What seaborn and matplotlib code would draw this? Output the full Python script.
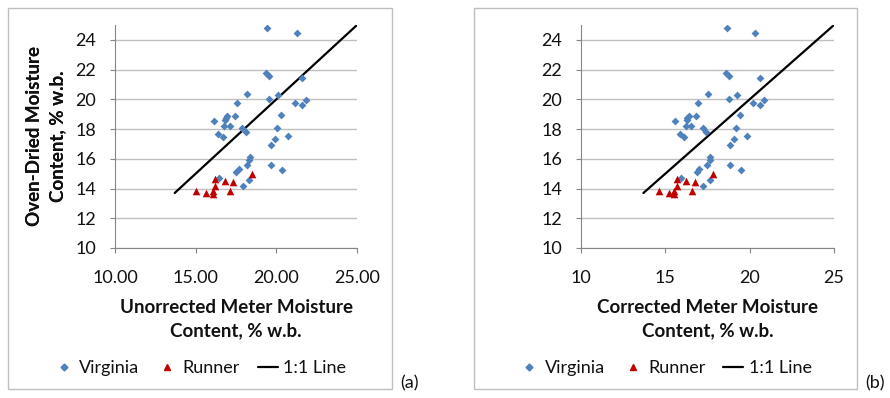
import matplotlib.pyplot as plt
import matplotlib.patches as mpatches
from matplotlib.lines import Line2D
import numpy as np
import pandas as pd
import seaborn as sns

# panel (a): uncorrected meter readings
va_meter_a = [19.44, 21.26, 19.36, 19.55, 21.61, 18.16, 19.55, 20.10, 17.54, 21.14,
              21.61, 21.86, 20.29, 16.12, 16.96, 16.80, 17.44, 16.78, 17.13, 17.89,
              18.10, 20.02, 16.38, 16.67, 20.74, 19.94, 19.69, 18.37, 18.33, 18.18,
              19.65, 17.67, 17.50, 20.37, 18.31, 16.47, 17.91, 16.88]
# panel (b): corrected meter readings
va_meter_b = [18.66, 20.32, 18.58, 18.76, 20.63, 17.51, 18.76, 19.27, 16.92, 20.18,
              20.63, 20.85, 19.41, 15.60, 16.41, 16.27, 16.84, 16.21, 16.55, 17.24,
              17.44, 19.17, 15.86, 16.11, 19.84, 19.09, 18.86, 17.65, 17.63, 17.48,
              18.84, 17.00, 16.86, 19.49, 17.63, 15.94, 17.26, 16.29]
va_oven = [24.83, 24.47, 21.75, 21.54, 21.41, 20.36, 20.03, 20.29, 19.78, 19.74,
           19.60, 19.96, 18.93, 18.55, 18.89, 18.62, 18.87, 18.18, 18.18, 18.06,
           17.79, 18.06, 17.64, 17.46, 17.53, 17.30, 16.95, 16.14, 15.90, 15.61,
           15.58, 15.32, 15.09, 15.23, 14.60, 14.74, 14.18, 18.77]

ru_meter_a = [15.02, 15.64, 16.05, 16.05, 16.18, 16.18, 16.82, 17.33, 17.15, 18.51]
ru_meter_b = [14.64, 15.19, 15.54, 15.54, 15.68, 15.68, 16.25, 16.73, 16.57, 17.81]
ru_oven = [13.84, 13.71, 13.62, 13.84, 14.16, 14.67, 14.54, 14.42, 13.82, 14.96]

line_x = [13.7, 25.0]
line_y = [13.7, 25.0]

x_labels = ['Unorrected Meter Moisture\nContent, % w.b.',
            'Corrected Meter Moisture\nContent, % w.b.']
y_label = 'Oven-Dried Moisture\nContent, % w.b.'
panel_tags = ['(a)', '(b)']

sns.set_theme(style='white')
plt.rcParams['font.family'] = ['Lato', 'DejaVu Sans']

W, H = 890, 398
fig = plt.figure(figsize=(W / 100, H / 100), dpi=100)

BLUE = '#4F81BD'
RED = '#C00000'
GRID = '#BFBFBF'
AXC = '#868686'
TXT = '#111111'


def px(x0, y0, x1, y1):
    return [x0 / W, 1 - y1 / H, (x1 - x0) / W, (y1 - y0) / H]


boxes = [(8, 8, 392, 389), (474, 8, 857, 389)]
plots = [(115, 25, 357, 248), (581, 25, 834, 248)]
meters_va = [va_meter_a, va_meter_b]
meters_ru = [ru_meter_a, ru_meter_b]
tick_fmt = ['{:.2f}', '{:.0f}']

for i in range(2):
    bx = boxes[i]
    pl = plots[i]
    pw, ph = pl[2] - pl[0], pl[3] - pl[1]
    fig.patches.append(mpatches.Rectangle((bx[0] / W, 1 - bx[3] / H), (bx[2] - bx[0]) / W,
                                          (bx[3] - bx[1]) / H, transform=fig.transFigure,
                                          fill=False, edgecolor='#BFBFBF', lw=1))
    ax = fig.add_axes(px(*pl))
    df_va = pd.DataFrame({'meter': meters_va[i], 'oven': va_oven})
    df_ru = pd.DataFrame({'meter': meters_ru[i], 'oven': ru_oven})
    df_line = pd.DataFrame({'x': line_x, 'y': line_y})
    sns.lineplot(data=df_line, x='x', y='y', ax=ax, color='black', lw=1.6, zorder=3)
    sns.scatterplot(data=df_va, x='meter', y='oven', ax=ax, marker='D', s=16,
                    color=BLUE, edgecolor=BLUE, linewidth=0, zorder=4)
    sns.scatterplot(data=df_ru, x='meter', y='oven', ax=ax, marker='^', s=30,
                    color=RED, edgecolor=RED, linewidth=0, zorder=4)
    ax.set_xlim(10, 25)
    ax.set_ylim(10, 25)
    xt = [10, 15, 20, 25]
    ax.set_xticks(xt)
    ax.set_xticklabels([tick_fmt[i].format(v) for v in xt])
    ax.set_yticks(range(10, 25, 2))
    ax.yaxis.grid(True, color=GRID, lw=1)
    ax.xaxis.grid(False)
    for s in ['top', 'right']:
        ax.spines[s].set_visible(False)
    for s in ['left', 'bottom']:
        ax.spines[s].set_color(AXC)
        ax.spines[s].set_linewidth(0.8)
    ax.tick_params(axis='both', which='major', direction='out', length=3.6, width=0.8,
                   color=AXC, labelsize=13, labelcolor=TXT)
    ax.tick_params(axis='y', pad=10)
    ax.tick_params(axis='x', pad=12)
    ax.tick_params(left=True, bottom=True)
    ax.set_xlabel(x_labels[i], fontsize=13.5, fontweight='bold',
                  linespacing=1.45, color=TXT)
    ax.xaxis.label.set_va('center')
    ax.xaxis.set_label_coords(0.5, (pl[3] - 319) / ph)
    ax.set_ylabel(y_label, fontsize=13.5, fontweight='bold',
                  linespacing=1.45, color=TXT)
    ax.yaxis.label.set_va('center')
    ax.yaxis.set_label_coords((46 - pl[0]) / pw, 0.5)
    handles = [Line2D([], [], marker='D', ls='', color=BLUE, markersize=3.5),
               Line2D([], [], marker='^', ls='', color=RED, markersize=4.5),
               Line2D([], [], color='black', lw=1.6)]
    cx = (bx[0] + bx[2]) / 2
    fig.legend(handles, ['Virginia', 'Runner', '1:1 Line'], loc='center',
               bbox_to_anchor=(cx / W, 1 - 368 / H), ncol=3, frameon=False,
               fontsize=13, handlelength=1.1, handletextpad=0.3, columnspacing=1.0,
               labelcolor=TXT)
    fig.text((bx[2] + 8) / W, 1 - 383 / H, panel_tags[i], fontsize=13,
             ha='left', va='center', color=TXT)

fig.savefig('out.png', dpi=100)
